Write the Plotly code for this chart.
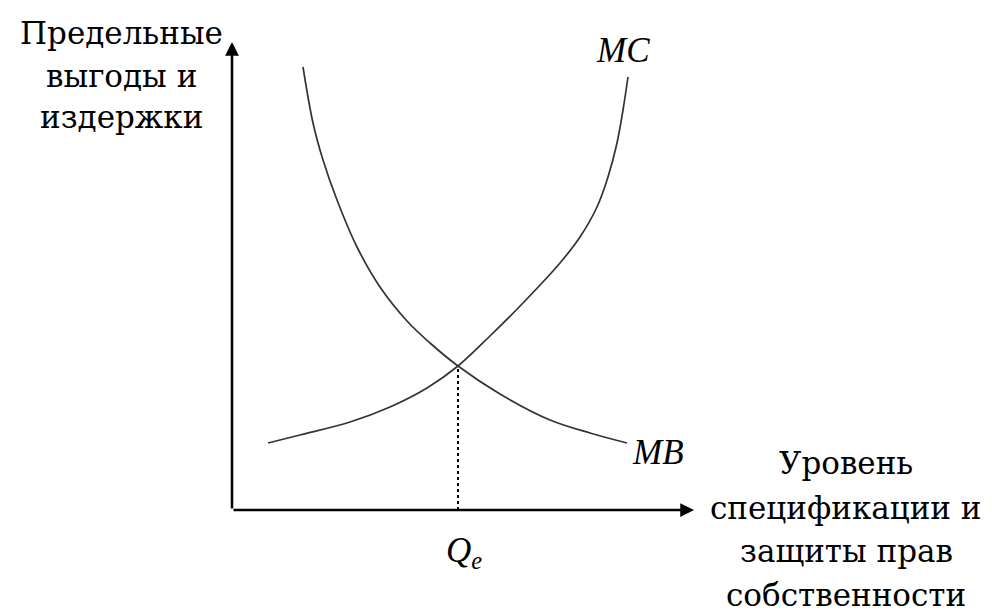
import plotly.graph_objects as go

# points, origin at the corner of the axes (x right, y up, ~1 unit per pixel)
mb_x = [71, 81, 91, 105, 125, 148, 175, 198, 226, 268, 318, 358, 395]
mb_y = [443, 387, 350, 310, 263, 223, 189, 167, 144, 116, 90, 77, 67]

mc_x = [36, 68, 118, 158, 195, 226, 258, 291, 328, 348, 365, 376, 385, 391, 396]
mc_y = [67, 75, 88, 103, 122, 144, 174, 207, 247, 273, 303, 333, 367, 400, 433]

q_e = 226          # equilibrium quantity
p_e = 144          # equilibrium value
x_end = 462        # end of horizontal axis
y_end = 468        # end of vertical axis

y_title = ["Предельные", "выгоды и", "издержки"]
x_title = ["Уровень", "спецификации и", "защиты прав", "собственности"]

serif = "DejaVu Serif"
curve_col = "#333333"

fig = go.Figure()

fig.add_trace(go.Scatter(x=mb_x, y=mb_y, mode="lines",
                         line=dict(color=curve_col, width=1.7, shape="spline", smoothing=1.0),
                         hoverinfo="skip"))
fig.add_trace(go.Scatter(x=mc_x, y=mc_y, mode="lines",
                         line=dict(color=curve_col, width=1.7, shape="spline", smoothing=1.0),
                         hoverinfo="skip"))

# dotted drop line from the intersection
fig.add_trace(go.Scatter(x=[q_e, q_e], y=[0, p_e], mode="lines",
                         line=dict(color="black", width=2, dash="dot"), hoverinfo="skip"))

# axes with arrows
for tx, ty in [(0, y_end), (x_end, 0)]:
    fig.add_annotation(x=tx, y=ty, ax=0, ay=0, xref="x", yref="y", axref="x", ayref="y",
                       text="", showarrow=True, arrowhead=2, arrowsize=1.1,
                       arrowwidth=2.5, arrowcolor="black")

# axis titles, one annotation per line
title_font = dict(family=serif, size=31, color="black")
for line, yy in zip(y_title, [477, 434, 393]):
    fig.add_annotation(x=-111, y=yy, xref="x", yref="y", text=line,
                       showarrow=False, font=title_font)
for line, yy in zip(x_title, [47, 2, -41, -85]):
    fig.add_annotation(x=614, y=yy, xref="x", yref="y", text=line,
                       showarrow=False, font=title_font)

# curve labels
lab_font = dict(family="Liberation Serif", size=35, color="black")
fig.add_annotation(x=391, y=460, text="<i>MC</i>", showarrow=False, font=lab_font)
fig.add_annotation(x=426, y=58, text="<i>MB</i>", showarrow=False, font=lab_font)
fig.add_annotation(x=232, y=-42, text="<i>Q</i><sub><i>e</i></sub>", showarrow=False,
                   font=lab_font)

# page body has an 8px margin, so the figure is 16px smaller than the window
fig.update_layout(
    width=984, height=607, autosize=False,
    margin=dict(l=0, r=0, t=0, b=0),
    plot_bgcolor="white", paper_bgcolor="white",
    showlegend=False,
    xaxis=dict(range=[-224, 760], visible=False, fixedrange=True),
    yaxis=dict(range=[-105, 502], visible=False, fixedrange=True),
)

fig.write_html("out.html")
